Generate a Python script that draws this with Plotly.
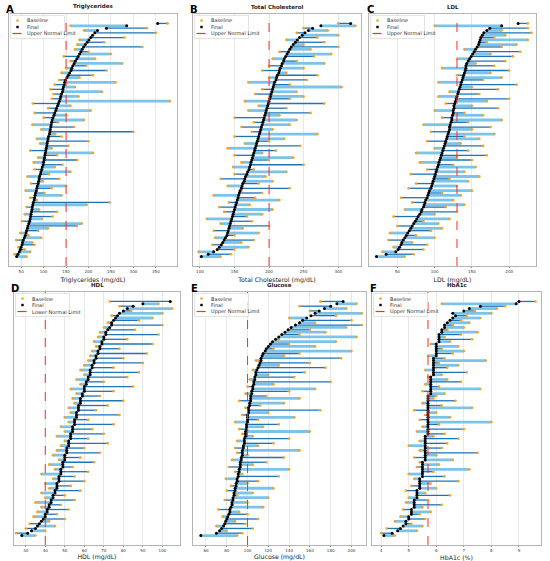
import plotly.graph_objects as go

W, H = 550, 561
ROWS = list(range(100))

# final values (sorted, bottom row first) and baseline values per patient
TG_FINAL = [40, 43, 46, 48, 50, 52, 53, 55, 57, 59,
            61, 62, 64, 65, 67, 69, 70, 71, 72, 73,
            74, 75, 76, 77, 79, 80, 81, 82, 84, 85,
            86, 88, 89, 90, 91, 93, 94, 96, 97, 99,
            100, 101, 102, 103, 104, 105, 106, 107, 108, 109,
            110, 111, 113, 114, 115, 116, 117, 118, 119, 121,
            123, 125, 127, 129, 131, 133, 135, 137, 138, 140,
            142, 143, 144, 146, 147, 149, 152, 155, 158, 161,
            163, 165, 168, 171, 174, 177, 180, 183, 186, 189,
            193, 197, 201, 205, 209, 214, 220, 240, 285, 354]
TG_BASE = [62, 35, 70, 58, 44, 80, 75, 39, 95, 66,
           48, 88, 110, 174, 185, 52, 96, 120, 58, 130,
           90, 62, 196, 247, 85, 70, 140, 102, 60, 118,
           150, 72, 98, 135, 64, 112, 160, 80, 125, 142,
           78, 175, 88, 130, 210, 70, 118, 155, 92, 200,
           85, 140, 126, 300, 95, 168, 75, 132, 190, 100,
           150, 80, 205, 110, 160, 76, 381, 118, 178, 122,
           230, 115, 170, 125, 260, 135, 180, 210, 140, 240,
           150, 195, 275, 160, 215, 145, 250, 200, 170, 320,
           175, 235, 180, 280, 210, 350, 190, 330, 160, 376]

TC_FINAL = [102, 112, 120, 125, 128, 131, 133, 135, 137, 139,
            140, 141, 142, 143, 144, 145, 146, 147, 148, 149,
            150, 151, 152, 153, 154, 155, 156, 157, 158, 160,
            161, 162, 164, 165, 166, 168, 169, 171, 172, 173,
            174, 175, 176, 177, 178, 179, 180, 181, 182, 183,
            184, 185, 186, 187, 188, 189, 190, 191, 192, 193,
            194, 195, 196, 197, 198, 199, 200, 201, 202, 203,
            204, 205, 206, 207, 208, 210, 211, 212, 214, 215,
            216, 218, 219, 221, 222, 224, 226, 228, 230, 232,
            235, 238, 241, 244, 248, 252, 257, 263, 275, 318]
TC_BASE = [130, 145, 98, 150, 170, 118, 160, 178, 122, 150,
           185, 120, 162, 200, 130, 175, 110, 168, 190, 135,
           205, 128, 172, 142, 215, 180, 120, 190, 160, 230,
           140, 185, 205, 130, 195, 150, 225, 178, 148, 250,
           160, 200, 235, 150, 190, 210, 140, 245, 165, 200,
           222, 150, 270, 175, 205, 160, 230, 178, 240, 150,
           215, 260, 170, 225, 185, 280, 165, 230, 250, 180,
           240, 190, 305, 230, 170, 255, 200, 270, 225, 190,
           250, 200, 280, 240, 205, 265, 290, 215, 260, 300,
           250, 280, 225, 270, 300, 240, 285, 250, 325, 300]

LDL_FINAL = [22, 35, 48, 51, 53, 55, 56, 58, 60, 62,
             64, 66, 68, 70, 72, 74, 76, 78, 80, 82,
             83, 85, 86, 87, 88, 90, 91, 92, 93, 95,
             96, 97, 98, 99, 100, 101, 102, 103, 104, 105,
             106, 107, 108, 109, 110, 111, 112, 113, 114, 115,
             116, 117, 118, 119, 120, 120, 121, 122, 123, 123,
             124, 125, 125, 126, 126, 127, 128, 129, 130, 131,
             132, 133, 134, 135, 136, 137, 138, 139, 140, 141,
             142, 142, 143, 145, 147, 149, 151, 153, 155, 157,
             159, 160, 161, 162, 164, 166, 170, 174, 190, 212]
LDL_BASE = [60, 72, 30, 85, 45, 90, 70, 38, 100, 75,
            40, 95, 110, 50, 105, 85, 120, 45, 100, 130,
            60, 115, 140, 70, 125, 55, 135, 110, 150, 65,
            130, 75, 145, 120, 160, 68, 140, 90, 155, 125,
            80, 150, 130, 170, 75, 145, 100, 165, 135, 90,
            160, 140, 180, 95, 150, 175, 85, 145, 190, 110,
            165, 140, 100, 185, 150, 115, 170, 200, 105, 160,
            120, 185, 150, 210, 105, 165, 190, 130, 175, 200,
            110, 180, 155, 195, 130, 205, 175, 215, 140, 190,
            210, 170, 225, 180, 195, 230, 190, 225, 100, 225]

HDL_FINAL = [28, 31, 33, 35, 36, 37, 38, 39, 40, 40,
             41, 41, 42, 42, 43, 43, 44, 44, 45, 45,
             46, 46, 46, 47, 47, 47, 48, 48, 48, 49,
             49, 49, 50, 50, 50, 51, 51, 51, 52, 52,
             52, 53, 53, 53, 54, 54, 54, 55, 55, 55,
             56, 56, 56, 57, 57, 57, 58, 58, 58, 59,
             59, 60, 60, 60, 61, 61, 62, 62, 63, 63,
             63, 64, 64, 65, 65, 66, 66, 67, 67, 68,
             68, 69, 69, 70, 70, 71, 71, 72, 73, 74,
             74, 75, 76, 77, 78, 80, 82, 85, 90, 104]
HDL_BASE = [35, 25, 40, 30, 45, 32, 42, 50, 34, 46,
            36, 52, 38, 48, 35, 55, 40, 50, 38, 58,
            42, 53, 40, 60, 44, 55, 38, 62, 45, 54,
            42, 65, 47, 58, 44, 68, 46, 60, 48, 72,
            50, 62, 46, 70, 50, 64, 48, 75, 52, 62,
            50, 78, 53, 66, 52, 72, 55, 80, 54, 68,
            56, 75, 53, 85, 58, 70, 56, 82, 60, 88,
            58, 75, 60, 90, 62, 80, 63, 92, 64, 78,
            66, 95, 65, 82, 67, 98, 68, 86, 70, 100,
            72, 88, 95, 74, 100, 84, 105, 78, 98, 73]

GLU_FINAL = [55, 70, 73, 75, 77, 78, 79, 80, 81, 82,
             83, 83, 84, 85, 85, 86, 86, 87, 87, 88,
             88, 89, 89, 90, 90, 91, 91, 92, 92, 93,
             93, 93, 94, 94, 95, 95, 95, 96, 96, 97,
             97, 97, 98, 98, 98, 99, 99, 99, 100, 100,
             100, 100, 101, 101, 101, 102, 102, 103, 103, 103,
             104, 104, 105, 105, 106, 106, 107, 107, 108, 108,
             109, 110, 111, 112, 113, 113, 114, 115, 117, 118,
             120, 122, 124, 127, 130, 133, 136, 139, 142, 146,
             150, 153, 157, 161, 165, 169, 174, 180, 186, 192]
GLU_BASE = [90, 95, 80, 105, 70, 98, 88, 110, 76, 100,
            92, 72, 115, 86, 100, 78, 120, 90, 105, 80,
            125, 84, 100, 110, 79, 130, 95, 88, 140, 82,
            105, 118, 85, 135, 100, 90, 150, 88, 110, 125,
            90, 140, 105, 95, 160, 92, 115, 130, 88, 110,
            145, 95, 120, 170, 98, 112, 135, 92, 150, 118,
            98, 140, 165, 100, 125, 180, 102, 145, 120, 155,
            105, 175, 130, 160, 108, 190, 135, 150, 200, 125,
            165, 140, 185, 130, 205, 150, 175, 160, 195, 210,
            165, 200, 140, 185, 210, 160, 195, 150, 205, 170]

A1C_FINAL = [4.1, 4.4, 4.6, 4.7, 4.8, 4.9, 4.9, 5.0, 5.0, 5.1,
             5.1, 5.1, 5.2, 5.2, 5.2, 5.2, 5.3, 5.3, 5.3, 5.3,
             5.4, 5.4, 5.4, 5.4, 5.4, 5.5, 5.5, 5.5, 5.5, 5.5,
             5.5, 5.5, 5.6, 5.6, 5.6, 5.6, 5.6, 5.6, 5.6, 5.6,
             5.6, 5.6, 5.6, 5.7, 5.7, 5.7, 5.7, 5.7, 5.7, 5.7,
             5.7, 5.7, 5.7, 5.7, 5.7, 5.7, 5.7, 5.7, 5.7, 5.7,
             5.8, 5.8, 5.8, 5.8, 5.8, 5.8, 5.8, 5.8, 5.9, 5.9,
             5.9, 5.9, 5.9, 5.9, 5.9, 5.9, 6.0, 6.0, 6.0, 6.0,
             6.0, 6.0, 6.1, 6.1, 6.1, 6.1, 6.2, 6.2, 6.3, 6.3,
             6.4, 6.5, 6.6, 6.7, 6.6, 7.0, 7.2, 7.6, 8.9, 9.0]
A1C_BASE = [4.5, 4.0, 5.3, 4.2, 5.5, 5.1, 4.5, 5.6, 4.7, 5.4,
            5.8, 4.8, 5.5, 6.2, 4.9, 5.7, 5.0, 6.5, 5.6, 4.9,
            6.0, 5.1, 5.8, 6.8, 5.2, 6.3, 5.0, 5.9, 7.2, 5.3,
            6.1, 5.4, 6.6, 5.2, 6.0, 7.5, 5.4, 6.2, 5.0, 6.4,
            5.4, 6.8, 5.9, 6.3, 5.3, 7.0, 5.5, 6.1, 8.0, 5.4,
            6.5, 5.6, 6.0, 5.2, 7.3, 6.2, 5.5, 6.7, 5.9, 6.0,
            6.3, 5.5, 7.6, 6.1, 5.6, 6.9, 6.4, 5.7, 6.2, 7.1,
            5.6, 6.4, 6.8, 6.1, 7.8, 6.3, 5.7, 6.6, 7.0, 6.2,
            6.8, 5.8, 6.5, 7.3, 6.3, 6.9, 7.5, 6.4, 7.0, 6.6,
            7.2, 6.9, 7.6, 7.1, 8.0, 7.4, 8.2, 8.5, 6.2, 9.6]

LETTERS = ["A", "B", "C", "D", "E", "F"]
TITLES = ["Triglycerides", "Total Cholesterol", "LDL", "HDL", "Glucose", "HbA1c"]
XLABELS = ["Triglycerides (mg/dL)", "Total Cholesterol (mg/dL)", "LDL (mg/dL)",
           "HDL (mg/dL)", "Glucose (mg/dL)", "HbA1c (%)"]
LIMITS = [150, 200, 130, 40, 100, 5.7]
LIMIT_NAMES = ["Upper Normal Limit", "Upper Normal Limit", "Upper Normal Limit",
               "Lower Normal Limit", "Upper Normal Limit", "Upper Normal Limit"]
TICKS = [[50, 100, 150, 200, 250, 300, 350],
         [100, 150, 200, 250, 300],
         [50, 100, 150, 200],
         [30, 40, 50, 60, 70, 80, 90, 100],
         [60, 80, 100, 120, 140, 160, 180, 200],
         [4, 5, 6, 7, 8, 9]]
FINALS = [TG_FINAL, TC_FINAL, LDL_FINAL, HDL_FINAL, GLU_FINAL, A1C_FINAL]
BASES = [TG_BASE, TC_BASE, LDL_BASE, HDL_BASE, GLU_BASE, A1C_BASE]

# layout in pixels: frame left, right, top, bottom and x range
FRAMES = [(9, 177, 14, 266), (193, 361, 14, 266), (369, 536, 14, 266),
          (14, 180, 292, 545), (193, 366, 292, 545), (372, 541, 292, 545)]
XRANGES = [[23, 397], [90, 333], [12, 236], [24, 109], [47.5, 214], [3.67, 9.8]]

LIGHT = "#7cc3ea"
DARK = "#1f74b5"
ORANGE = "#f5a31f"
RED = "#ff2a2a"
FONT = "DejaVu Sans"


def px(x):
    return x / W


def py(y):
    return 1 - y / H


fig = go.Figure()
shapes = []
annotations = []

for k in range(6):
    ax = "" if k == 0 else str(k + 1)
    xref, yref = "x" + ax, "y" + ax
    fin, base = FINALS[k], BASES[k]
    l, r, t, b = FRAMES[k]

    for parity, color, width in [(0, LIGHT, 2.8), (1, DARK, 1.3)]:
        xs, ys = [], []
        for i in ROWS:
            if i % 2 == parity:
                xs += [base[i], fin[i], None]
                ys += [i, i, None]
        fig.add_trace(go.Scatter(x=xs, y=ys, mode="lines", xaxis=xref, yaxis=yref,
                                 line=dict(color=color, width=width),
                                 showlegend=False, hoverinfo="skip"))

    fig.add_trace(go.Scatter(x=base, y=ROWS, mode="markers", xaxis=xref, yaxis=yref,
                             marker=dict(color=ORANGE, size=2.6), showlegend=False))
    fig.add_trace(go.Scatter(x=fin, y=ROWS, mode="markers", xaxis=xref, yaxis=yref,
                             marker=dict(color="black", size=3), showlegend=False))

    shapes.append(dict(type="line", xref=xref, yref=yref + " domain",
                       x0=LIMITS[k], x1=LIMITS[k], y0=0, y1=1,
                       line=dict(color=RED, width=1, dash="dash")))

    fig.update_layout(**{
        "xaxis" + ax: dict(domain=[px(l), px(r)], range=XRANGES[k], anchor=yref,
                           tickvals=TICKS[k], tickfont=dict(size=4, color="#333"),
                           ticks="outside", ticklen=1.5, tickcolor="#888", tickwidth=0.5,
                           showgrid=True, gridcolor="#e8e8e8", gridwidth=0.6,
                           zeroline=False, showline=True, mirror=True,
                           linecolor="#b5b5b5", linewidth=0.8,
                           title=dict(text=XLABELS[k], font=dict(size=6.2, color="#222"),
                                      standoff=4)),
        "yaxis" + ax: dict(domain=[py(b), py(t)], range=[-4, 103], anchor=xref,
                           showticklabels=False, showgrid=False, zeroline=False,
                           showline=True, mirror=True, linecolor="#b5b5b5",
                           linewidth=0.8, ticks=""),
    })

    # panel letter and title
    annotations.append(dict(text="<b>" + LETTERS[k] + "</b>", x=px(l + 1), y=py(t - 4),
                            xref="paper", yref="paper", xanchor="center", yanchor="middle",
                            showarrow=False, font=dict(size=10, color="black")))
    annotations.append(dict(text="<b>" + TITLES[k] + "</b>", x=px((l + r) / 2),
                            y=py(t - 7), xref="paper", yref="paper", xanchor="center",
                            yanchor="middle", showarrow=False,
                            font=dict(size=5.5, color="#222")))

    # legend box drawn in paper space
    bx0, by0 = l + 1.5, t + 1.5
    bx1, by1 = bx0 + 54, by0 + 23
    shapes.append(dict(type="rect", xref="paper", yref="paper",
                       x0=px(bx0), x1=px(bx1), y0=py(by1), y1=py(by0),
                       fillcolor="rgba(255,255,255,0.85)",
                       line=dict(color="#d0d0d0", width=0.6)))
    rows_y = [by0 + 5, by0 + 11.5, by0 + 18]
    sx = bx0 + 7
    shapes.append(dict(type="circle", xref="paper", yref="paper",
                       x0=px(sx - 1.3), x1=px(sx + 1.3), y0=py(rows_y[0] + 1.3),
                       y1=py(rows_y[0] - 1.3), fillcolor=ORANGE, line=dict(width=0)))
    shapes.append(dict(type="rect", xref="paper", yref="paper",
                       x0=px(sx - 1.2), x1=px(sx + 1.2), y0=py(rows_y[1] + 1.2),
                       y1=py(rows_y[1] - 1.2), fillcolor="black", line=dict(width=0)))
    shapes.append(dict(type="line", xref="paper", yref="paper",
                       x0=px(sx - 5), x1=px(sx + 5), y0=py(rows_y[2]), y1=py(rows_y[2]),
                       line=dict(color=RED, width=1.2, dash="dash")))
    for label, ly in zip(["Baseline", "Final", LIMIT_NAMES[k]], rows_y):
        annotations.append(dict(text=label, x=px(bx0 + 14), y=py(ly), xref="paper",
                                yref="paper", xanchor="left", yanchor="middle",
                                showarrow=False, font=dict(size=5, color="#333")))

fig.update_layout(width=W, height=H, margin=dict(l=0, r=0, t=0, b=0),
                  paper_bgcolor="white", plot_bgcolor="white",
                  font=dict(family=FONT), showlegend=False,
                  shapes=shapes, annotations=annotations)

# the page body has a default margin, drop it so the figure fills the window
fig.write_html("out.html", config={"displayModeBar": False},
               post_script="document.body.style.margin='0';")
